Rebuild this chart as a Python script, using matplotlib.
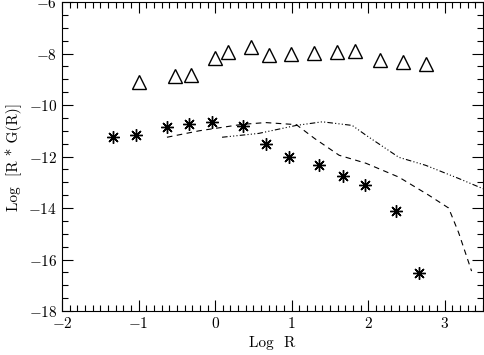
import matplotlib
matplotlib.use("Agg")
import matplotlib.pyplot as plt
from matplotlib.ticker import MultipleLocator

plt.rcParams["font.family"] = ["cmr10", "DejaVu Serif"]
plt.rcParams["axes.formatter.use_mathtext"] = True
plt.rcParams["mathtext.fontset"] = "cm"

# triangles
tri_x = [-1.0, -0.52, -0.31, 0.0, 0.17, 0.47, 0.70, 0.99, 1.29, 1.59, 1.83, 2.16, 2.46, 2.76]
tri_y = [-9.11, -8.88, -8.84, -8.18, -7.95, -7.75, -8.06, -8.02, -7.98, -7.95, -7.91, -8.26, -8.33, -8.39]

# asterisks
ast_x = [-1.33, -1.03, -0.63, -0.34, -0.04, 0.37, 0.66, 0.96, 1.36, 1.67, 1.96, 2.36, 2.66]
ast_y = [-11.25, -11.17, -10.87, -10.75, -10.64, -10.8, -11.52, -12.03, -12.34, -12.77, -13.12, -14.13, -16.54]

# dashed curve
dash_x = [-0.63, -0.21, 0.35, 0.66, 1.06, 1.30, 1.62, 1.97, 2.40, 2.79, 3.05, 3.18, 3.35]
dash_y = [-11.25, -11.0, -10.75, -10.68, -10.76, -11.3, -11.95, -12.26, -12.8, -13.5, -14.0, -14.95, -16.45]

# dash-dot-dot curve
dd_x = [0.09, 0.57, 1.06, 1.40, 1.79, 1.97, 2.40, 2.75, 3.18, 3.50]
dd_y = [-11.25, -11.1, -10.79, -10.65, -10.79, -11.17, -12.03, -12.34, -12.85, -13.25]

fig = plt.figure(figsize=(4.85, 3.55), dpi=100)
ax = fig.add_axes([0.128, 0.124, 0.868, 0.870])

ax.plot(dash_x, dash_y, color="black", linewidth=0.8, linestyle=(0, (5, 4)))
ax.plot(dd_x, dd_y, color="black", linewidth=0.8,
        linestyle=(0, (5, 2, 1, 2, 1, 2, 1, 2)))
ax.plot(tri_x, tri_y, linestyle="none", marker="^", markersize=10,
        markerfacecolor="none", markeredgecolor="black", markeredgewidth=1.0)
ax.plot(ast_x, ast_y, linestyle="none", marker=(8, 2, 0), markersize=9,
        color="black", markeredgewidth=1.0)

ax.set_xlim(-2, 3.5)
ax.set_ylim(-18, -6)
ax.xaxis.set_major_locator(MultipleLocator(1))
ax.xaxis.set_minor_locator(MultipleLocator(0.1))
ax.yaxis.set_major_locator(MultipleLocator(2))
ax.yaxis.set_minor_locator(MultipleLocator(0.5))
ax.tick_params(which="both", direction="in", top=True, right=True,
               labelsize=11, width=0.8)
ax.tick_params(which="major", length=8)
ax.tick_params(which="minor", length=4)
for s in ax.spines.values():
    s.set_linewidth(0.8)

ax.set_xlabel("Log  R", fontsize=11, labelpad=4)
ax.set_ylabel("Log  [R * G(R)]", fontsize=11, labelpad=5)

fig.savefig("out.png", dpi=100)
